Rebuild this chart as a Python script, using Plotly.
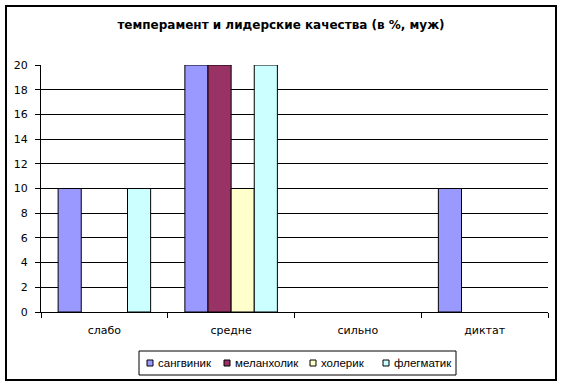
import plotly.graph_objects as go

categories = ["слабо", "средне", "сильно", "диктат"]
series_names = ["сангвиник", "меланхолик", "холерик", "флегматик"]
sangvinik = [10, 20, 0, 10]
melanholik = [0, 20, 0, 0]
holerik = [0, 10, 0, 0]
flegmatik = [10, 20, 0, 0]
y_ticks = [0, 2, 4, 6, 8, 10, 12, 14, 16, 18, 20]
colors = ["#9999FF", "#993366", "#FFFFCC", "#CCFFFF"]

FONT = "DejaVu Sans, Arial, sans-serif"
LEG_FONT = "Liberation Sans, Arial, sans-serif"

fig = go.Figure()
for name, vals, col in zip(series_names, [sangvinik, melanholik, holerik, flegmatik], colors):
    fig.add_trace(go.Bar(x=categories, y=vals, name=name, showlegend=False, hoverinfo="skip",
                         marker=dict(color=col, line=dict(color="black", width=[1 if v else 0 for v in vals]))))

W, H = 562, 384
l, r, t, b = 41, 14, 65, 72
pw, ph = W - l - r, H - t - b

def px_x(x):
    return (x - l) / pw

def px_y(y):
    return (H - b - y) / ph

fig.update_layout(
    width=W, height=H,
    margin=dict(l=l, r=r, t=t, b=b, autoexpand=False),
    paper_bgcolor="white", plot_bgcolor="white",
    font=dict(family=FONT, size=11, color="black"),
    title=dict(text="<b>темперамент и лидерские качества (в %, муж)</b>", x=0.5, xanchor="center",
               y=1 - 25 / H, yanchor="middle", font=dict(size=12, family=FONT)),
    barmode="group", bargap=0.27, bargroupgap=0,
    showlegend=False,
    xaxis=dict(type="category", showline=True, linecolor="black", linewidth=1, ticks="outside", tickson="boundaries",
               ticklen=5, tickcolor="black", showgrid=False, fixedrange=True, automargin=False, ticklabelstandoff=8),
    yaxis=dict(range=[0, 20], tickvals=y_ticks, showline=True, linecolor="black", linewidth=1, ticks="outside",
               ticklen=5, tickcolor="black", showgrid=True, gridcolor="black", gridwidth=1, zeroline=False,
               automargin=False, ticklabelstandoff=5, fixedrange=True),
)
# outer chart frame
fig.add_shape(type="rect", xref="paper", yref="paper",
              x0=px_x(6), x1=px_x(556), y0=px_y(380), y1=px_y(6),
              line=dict(color="black", width=2))
# legend box
fig.add_shape(type="rect", xref="paper", yref="paper",
              x0=px_x(139), x1=px_x(456), y0=px_y(375), y1=px_y(351),
              line=dict(color="black", width=1), fillcolor="white")
legend_x = [147, 224, 310, 383]
for name, col, lx in zip(series_names, colors, legend_x):
    fig.add_shape(type="rect", xref="paper", yref="paper",
                  x0=px_x(lx), x1=px_x(lx + 6), y0=px_y(366), y1=px_y(360),
                  line=dict(color="black", width=1), fillcolor=col)
    fig.add_annotation(xref="paper", yref="paper", x=px_x(lx + 9), y=px_y(363), text=name,
                       showarrow=False, xanchor="left", yanchor="middle", font=dict(size=11.5, family=LEG_FONT))
fig.write_html("out.html", config={"displayModeBar": False},
               post_script="document.body.style.margin='0';")
